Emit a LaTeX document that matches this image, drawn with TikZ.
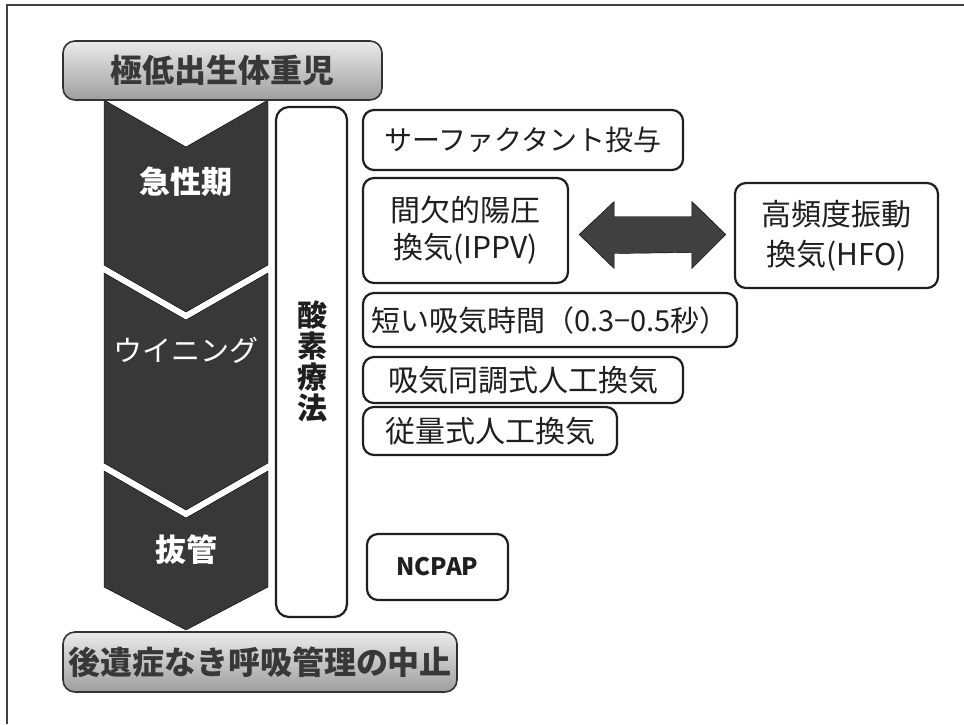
\documentclass[tikz,border=0pt]{standalone}
\usepackage{fontspec}
\setmainfont{Noto Sans CJK JP}
\usetikzlibrary{calc}
\begin{document}
\begin{tikzpicture}[x=1pt,y=-1pt,
  frame/.style={draw=black!75, line width=1.6pt},
  rbox/.style={draw=black!88, line width=2.2pt, rounded corners=11pt, fill=white,
    text=black!88, inner sep=0pt, align=center, font=\fontsize{30}{38}\selectfont},
  gbox/.style={draw=black!80, line width=1.6pt, rounded corners=12pt,
    top color=black!8, bottom color=black!38, text=black!78, inner sep=0pt,
    font=\bfseries\fontsize{32}{36}\selectfont},
  chev/.style={fill=black!78},
  chevlabel/.style={text=white, font=\bfseries\fontsize{31}{36}\selectfont},
  barrow/.style={fill=black!75}
]
\useasboundingbox (0,0) rectangle (964,724);
\draw[frame] (7,724) -- (7,5) -- (964,5);

% chevrons
\draw[chev] (104,100) -- (186,147) -- (268,100) -- (268,265) -- (186,312) -- (104,265) -- cycle;
\draw[chev] (104,273) -- (186,320) -- (268,273) -- (268,463) -- (186,510) -- (104,463) -- cycle;
\draw[chev] (104,471) -- (186,518) -- (268,471) -- (268,587) -- (186,630) -- (104,587) -- cycle;
\node[chevlabel] (acute) at (186,182) {急性期};
\node[chevlabel, font=\fontsize{29}{34}\selectfont] (wean) at (186,350) {ウイニング};
\node[chevlabel] (extub) at (186,550) {抜管};

% top and bottom boxes
\node[gbox, minimum width=319pt, minimum height=59pt] (vlbw) at (222.5,70.5) {極低出生体重児};
\node[gbox, minimum width=394pt, minimum height=60pt] (stop) at (260,662) {後遺症なき呼吸管理の中止};

% oxygen box
\node[rbox, minimum width=71pt, minimum height=510pt, rounded corners=13pt] (oxy) at (311.5,362) {};
\node[align=center, text=black!88, font=\bfseries\fontsize{30}{31}\selectfont] (oxytext) at (312,362) {酸\\素\\療\\法};

% right boxes
\node[rbox, minimum width=320pt, minimum height=60pt, font=\fontsize{28}{34}\selectfont] (surf) at (523,140) {サーファクタント投与};
\node[rbox, minimum width=205pt, minimum height=105pt, font=\fontsize{30}{37}\selectfont] (ippv) at (465.5,230.5) {間欠的陽圧\\換気(IPPV)};
\node[rbox, minimum width=203pt, minimum height=105pt, font=\fontsize{30}{40}\selectfont] (hfo) at (836.5,235.5) {高頻度振動\\換気(HFO)};
\node[rbox, minimum width=374pt, minimum height=54pt, font=\fontsize{29}{34}\selectfont] (short) at (550,320) {短い吸気時間（0.3−0.5秒）};
\node[rbox, minimum width=320pt, minimum height=46pt] (sync) at (523,380) {吸気同調式人工換気};
\node[rbox, minimum width=254pt, minimum height=48pt] (vol) at (490,431) {従量式人工換気};
\node[rbox, minimum width=141pt, minimum height=66pt, font=\bfseries\fontsize{24}{30}\selectfont] (ncpap) at (437.5,567) {NCPAP};

% double block arrow between IPPV and HFO
\coordinate (al) at ($(ippv.east)+(10,4)$);
\coordinate (ar) at ($(hfo.west)+(-8,-1)$);
\draw[barrow] (al) -- ++(35,-33) -- ++(0,15) -- ($(ar)+(-34,-18)$) -- ++(0,-15) -- (ar)
  -- ++(-34,34) -- ++(0,-16) -- ($(al)+(35,19)$) -- ++(0,15) -- cycle;
\end{tikzpicture}
\end{document}
